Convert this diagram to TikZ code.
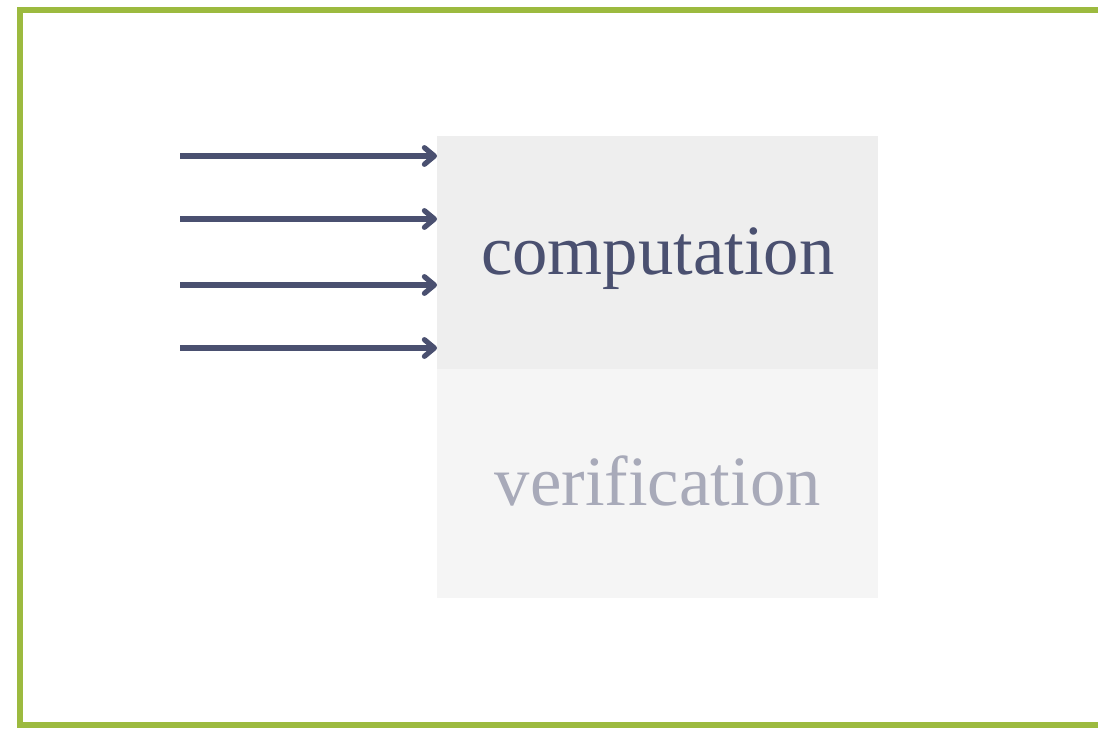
\documentclass[tikz,border=0pt]{standalone}
\usepackage{fontspec}
\setmainfont{Liberation Serif}
\usetikzlibrary{arrows.meta}
\definecolor{frame}{HTML}{9CBA3F}
\definecolor{ink}{HTML}{4A5070}
\definecolor{inkfade}{HTML}{A8AAB9}
\definecolor{boxtop}{HTML}{EEEEEE}
\definecolor{boxbot}{HTML}{F5F5F5}
\tikzset{
  stage/.style={anchor=north west, inner sep=0pt, minimum width=330.75pt,
    text height=1ex+28pt, text depth=0pt,
    font=\fontsize{53}{60}\selectfont},
  feed/.style={draw=ink, line width=3.9pt,
    -{Straight Barb[length=7.5pt, width=12.5pt, line width=3.9pt, line cap=round, line join=round]}}
}
\begin{document}
\begin{tikzpicture}[x=0.75pt, y=-0.75pt]
  \useasboundingbox (0,0) rectangle (1098,728);
  % frame open on the right
  \draw[frame, line width=4.5pt] (1102,10) -- (20,10) -- (20,725) -- (1102,725);
  % stages
  \node[stage, fill=boxtop, text=ink, minimum height=174.75pt] (comp) at (437,136) {computation};
  \node[stage, fill=boxbot, text=inkfade, minimum height=171.75pt] (verif) at (437,369) {verification};
  % inputs
  \foreach \i/\y in {1/156, 2/219, 3/285, 4/348} {
    \coordinate (in\i) at (180,\y);
    \draw[feed] (in\i) -- (comp.west |- in\i);
  }
\end{tikzpicture}
\end{document}
